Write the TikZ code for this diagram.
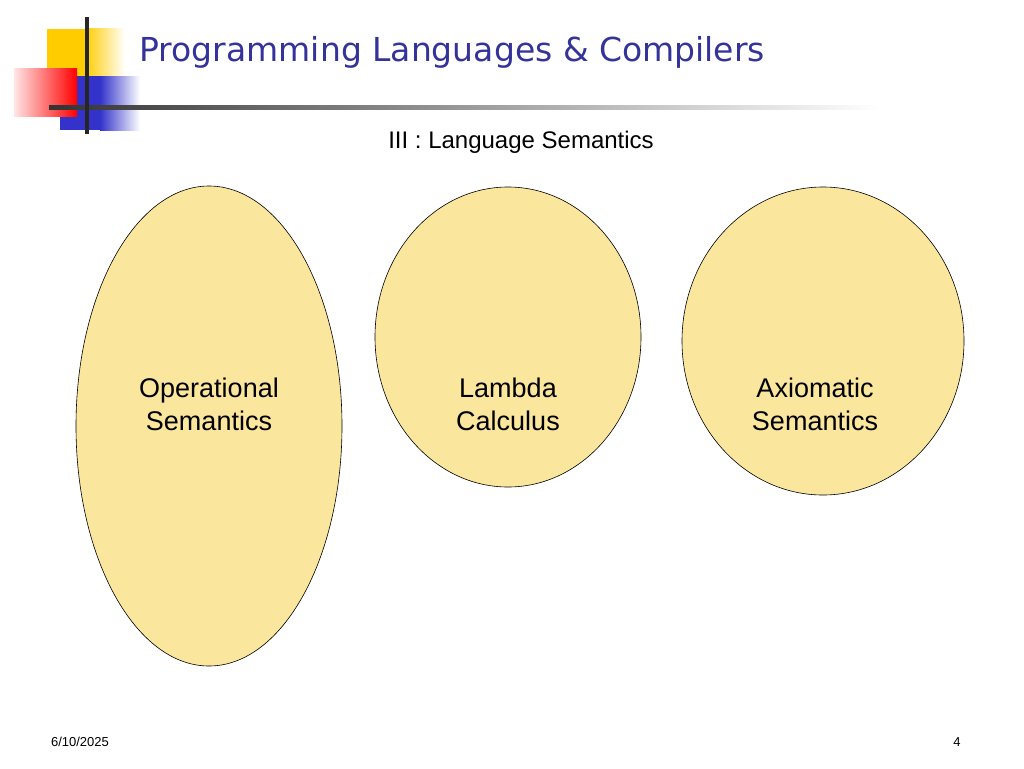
\documentclass[tikz,border=0pt]{standalone}
\usepackage{fontspec}
\usetikzlibrary{shapes.geometric}
\setmainfont{Liberation Sans}
\newfontfamily\titlefont{DejaVu Sans}
\definecolor{ell}{HTML}{FBE69E}
\definecolor{ttl}{HTML}{333399}
\definecolor{lyel}{HTML}{FFCC00}
\definecolor{lblu}{HTML}{3333CC}
\begin{document}
\begin{tikzpicture}[x=1pt,y=-1pt,
  oval/.style={draw=black,fill=ell,line width=0.6pt},
  lbl/.style={font=\fontsize{27}{33}\selectfont,align=center}]
\useasboundingbox (0,0) rectangle (1024,768);
\fill[white] (0,0) rectangle (1024,768);
% logo
\shade[left color=lyel,right color=white] (85,29) rectangle (125,76);
\fill[lyel] (47,29) rectangle (85,76);
\shade[left color=lblu,right color=white] (100,76) rectangle (140,130);
\fill[lblu] (60,76) rectangle (100,130);
\shade[shading angle=225,left color=red!10!white,right color=red] (14,68) rectangle (77,116);
\shade[left color=black!80,right color=white] (49,105) rectangle (880,109);
\fill[black!85] (85,17) rectangle (89,134);
\node[font=\titlefont\fontsize{33}{38}\selectfont,text=ttl,anchor=west] (title) at (136,52) {Programming Languages \& Compilers};
\node[font=\fontsize{24}{28}\selectfont] (sub) at (521,142) {III : Language Semantics};
\node[oval,ellipse,minimum width=266,minimum height=480,inner sep=0] (op) at (209,426) {};
\node[oval,ellipse,minimum width=266,minimum height=300,inner sep=0] (la) at (508,337) {};
\node[oval,ellipse,minimum width=282,minimum height=308,inner sep=0] (ax) at (823,341) {};
\node[lbl] (opt) at (209,404) {Operational\\Semantics};
\node[lbl] (lat) at (508,404) {Lambda\\Calculus};
\node[lbl] (axt) at (815,404) {Axiomatic\\Semantics};
\node[font=\fontsize{13}{15}\selectfont] (date) at (80,742) {6/10/2025};
\node[font=\fontsize{13}{15}\selectfont] (pg) at (957,742) {4};
\end{tikzpicture}
\end{document}
